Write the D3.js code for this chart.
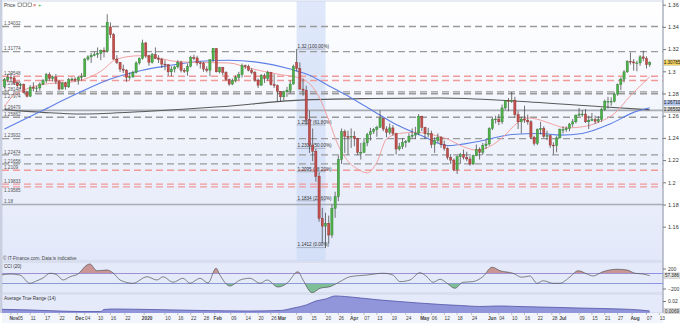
<!DOCTYPE html>
<html>
<head>
<meta charset="utf-8">
<script src="https://cdn.jsdelivr.net/npm/d3@7"></script>
<style>
	body { margin: 0; background: #fff; }
	svg { display: block; font-family: "Liberation Sans", Arial, sans-serif; }
</style>
</head>
<body>
<svg id="chart" width="680" height="323"></svg>
<script>
// daily candles [open, high, low, close], 30 Oct 2019 -> 10 Aug 2020
const ohlc = [
	[1.2860,1.2940,1.2845,1.2925],[1.2925,1.2977,1.2900,1.2945],[1.2945,1.2985,1.2905,1.2940],
	[1.2940,1.2955,1.2880,1.2895],[1.2895,1.2905,1.2855,1.2870],[1.2870,1.2895,1.2840,1.2880],[1.2880,1.2890,1.2800,1.2810],[1.2810,1.2825,1.2765,1.2775],
	[1.2775,1.2875,1.2770,1.2855],[1.2855,1.2900,1.2820,1.2845],[1.2845,1.2870,1.2815,1.2850],[1.2850,1.2900,1.2825,1.2885],[1.2885,1.2930,1.2875,1.2915],
	[1.2915,1.2985,1.2895,1.2970],[1.2970,1.2990,1.2915,1.2935],[1.2935,1.2960,1.2910,1.2950],[1.2950,1.2975,1.2885,1.2910],[1.2910,1.2920,1.2825,1.2840],
	[1.2840,1.2905,1.2835,1.2895],[1.2895,1.2905,1.2835,1.2860],[1.2860,1.2940,1.2850,1.2925],[1.2925,1.2945,1.2910,1.2930],[1.2930,1.2945,1.2905,1.2920],
	[1.2920,1.2960,1.2880,1.2945],[1.2945,1.2985,1.2915,1.2955],[1.2955,1.3120,1.2950,1.3110],[1.3110,1.3145,1.3095,1.3130],[1.3130,1.3165,1.3075,1.3145],
	[1.3145,1.3175,1.3135,1.3150],[1.3150,1.3215,1.3120,1.3160],[1.3160,1.3195,1.3100,1.3190],[1.3190,1.3215,1.3125,1.3180],[1.3180,1.3514,1.3170,1.3440],
	[1.3400,1.3440,1.3300,1.3330],[1.3330,1.3345,1.3105,1.3110],[1.3110,1.3145,1.3065,1.3080],[1.3080,1.3085,1.2995,1.3020],[1.3020,1.3060,1.2985,1.3010],
	[1.3010,1.3020,1.2905,1.2945],[1.2945,1.2990,1.2925,1.2950],[1.2950,1.3005,1.2940,1.2990],[1.2990,1.3090,1.2980,1.3075],
	[1.3075,1.3125,1.3060,1.3115],[1.3115,1.3285,1.3105,1.3255],[1.3255,1.3265,1.3120,1.3140],[1.3140,1.3150,1.3050,1.3080],
	[1.3080,1.3165,1.3070,1.3150],[1.3150,1.3215,1.3110,1.3115],[1.3115,1.3145,1.3075,1.3105],[1.3105,1.3120,1.3030,1.3065],[1.3065,1.3100,1.3010,1.3060],
	[1.3060,1.3065,1.2960,1.2995],[1.2995,1.3045,1.2955,1.3020],[1.3020,1.3050,1.2990,1.3040],[1.3040,1.3100,1.3025,1.3080],[1.3080,1.3095,1.2990,1.3010],
	[1.3010,1.3030,1.2985,1.3000],[1.3000,1.3070,1.2960,1.3045],[1.3045,1.3140,1.3035,1.3125],[1.3125,1.3150,1.3100,1.3120],[1.3120,1.3140,1.3050,1.3075],
	[1.3075,1.3090,1.3025,1.3070],[1.3070,1.3085,1.2995,1.3020],[1.3020,1.3045,1.2990,1.3010],[1.3010,1.3110,1.2955,1.3105],[1.3105,1.3210,1.3085,1.3205],
	[1.3205,1.3210,1.2990,1.2995],[1.2995,1.3040,1.2980,1.3035],[1.3035,1.3040,1.2965,1.2990],[1.2990,1.3000,1.2915,1.2925],[1.2925,1.2935,1.2870,1.2885],
	[1.2885,1.2935,1.2875,1.2915],[1.2915,1.2965,1.2900,1.2945],[1.2945,1.2995,1.2920,1.2970],[1.2970,1.3070,1.2945,1.3050],[1.3050,1.3060,1.3020,1.3045],
	[1.3045,1.3060,1.3000,1.3010],[1.3010,1.3030,1.2975,1.2990],[1.2990,1.3005,1.2905,1.2920],[1.2920,1.2935,1.2850,1.2875],[1.2875,1.2975,1.2870,1.2960],
	[1.2960,1.2980,1.2895,1.2935],[1.2935,1.3005,1.2915,1.2990],[1.2990,1.2995,1.2870,1.2880],[1.2880,1.2975,1.2850,1.2870],[1.2870,1.2880,1.2725,1.2820],
	[1.2820,1.2820,1.2725,1.2770],[1.2770,1.2825,1.2735,1.2815],[1.2815,1.2860,1.2770,1.2830],[1.2830,1.2920,1.2805,1.2885],[1.2885,1.3060,1.2880,1.3045],
	[1.3080,1.3200,1.3000,1.3025],[1.3025,1.3080,1.2835,1.2840],[1.2840,1.2935,1.2780,1.2830],[1.2830,1.2870,1.2520,1.2565],[1.2565,1.2645,1.2265,1.2335],
	[1.2335,1.2485,1.2190,1.2280],[1.2280,1.2300,1.2005,1.2055],[1.2055,1.2090,1.1645,1.1675],[1.1675,1.1770,1.1450,1.1605],[1.1605,1.1725,1.1409,1.1630],
	[1.1630,1.1700,1.1450,1.1525],[1.1525,1.1800,1.1500,1.1765],[1.1765,1.1915,1.1680,1.1870],[1.1870,1.2240,1.1830,1.2205],[1.2205,1.2485,1.2165,1.2455],
	[1.2455,1.2475,1.2265,1.2415],[1.2415,1.2465,1.2250,1.2405],[1.2405,1.2485,1.2310,1.2415],[1.2415,1.2460,1.2325,1.2395],[1.2395,1.2400,1.2245,1.2270],
	[1.2270,1.2355,1.2205,1.2270],[1.2270,1.2400,1.2265,1.2355],[1.2355,1.2445,1.2325,1.2430],[1.2430,1.2490,1.2375,1.2455],[1.2455,1.2490,1.2435,1.2475],
	[1.2475,1.2510,1.2410,1.2495],[1.2495,1.2647,1.2490,1.2575],[1.2575,1.2580,1.2460,1.2480],[1.2480,1.2505,1.2405,1.2450],[1.2450,1.2530,1.2430,1.2490],
	[1.2490,1.2515,1.2420,1.2440],[1.2440,1.2445,1.2250,1.2300],[1.2300,1.2355,1.2285,1.2320],[1.2320,1.2400,1.2300,1.2360],[1.2360,1.2380,1.2315,1.2365],
	[1.2365,1.2440,1.2355,1.2415],[1.2415,1.2485,1.2395,1.2425],[1.2425,1.2500,1.2390,1.2440],[1.2440,1.2615,1.2425,1.2595],[1.2595,1.2600,1.2460,1.2495],
	[1.2495,1.2500,1.2390,1.2440],[1.2440,1.2490,1.2405,1.2440],[1.2440,1.2465,1.2310,1.2340],[1.2340,1.2405,1.2265,1.2375],[1.2375,1.2440,1.2355,1.2405],
	[1.2405,1.2415,1.2310,1.2340],[1.2340,1.2375,1.2285,1.2305],[1.2305,1.2315,1.2205,1.2225],[1.2225,1.2255,1.2165,1.2200],[1.2200,1.2215,1.2100,1.2115],
	[1.2115,1.2240,1.2075,1.2230],[1.2230,1.2265,1.2165,1.2250],[1.2250,1.2295,1.2205,1.2225],[1.2225,1.2275,1.2190,1.2210],[1.2210,1.2235,1.2150,1.2165],
	[1.2165,1.2250,1.2155,1.2240],[1.2240,1.2340,1.2235,1.2295],[1.2295,1.2315,1.2205,1.2270],[1.2270,1.2355,1.2245,1.2330],[1.2330,1.2385,1.2300,1.2345],
	[1.2345,1.2495,1.2330,1.2485],[1.2485,1.2580,1.2470,1.2565],[1.2565,1.2600,1.2530,1.2570],[1.2570,1.2615,1.2515,1.2545],[1.2545,1.2700,1.2525,1.2670],
	[1.2670,1.2740,1.2655,1.2735],[1.2735,1.2760,1.2640,1.2730],[1.2730,1.2813,1.2715,1.2740],[1.2740,1.2770,1.2580,1.2610],[1.2610,1.2640,1.2480,1.2545],
	[1.2545,1.2590,1.2440,1.2570],[1.2570,1.2690,1.2535,1.2560],[1.2560,1.2610,1.2520,1.2545],[1.2545,1.2560,1.2390,1.2405],[1.2405,1.2420,1.2330,1.2350],
	[1.2350,1.2485,1.2335,1.2475],[1.2475,1.2545,1.2430,1.2485],[1.2485,1.2505,1.2400,1.2415],[1.2415,1.2465,1.2380,1.2420],[1.2420,1.2430,1.2310,1.2335],
	[1.2335,1.2360,1.2251,1.2330],[1.2330,1.2415,1.2270,1.2400],[1.2400,1.2485,1.2395,1.2475],[1.2475,1.2505,1.2440,1.2475],[1.2475,1.2505,1.2455,1.2485],
	[1.2485,1.2535,1.2460,1.2525],[1.2525,1.2570,1.2500,1.2545],[1.2545,1.2610,1.2530,1.2605],[1.2605,1.2670,1.2595,1.2615],[1.2615,1.2650,1.2590,1.2615],
	[1.2615,1.2660,1.2535,1.2545],[1.2545,1.2600,1.2480,1.2560],[1.2560,1.2625,1.2550,1.2565],[1.2565,1.2600,1.2525,1.2550],[1.2550,1.2595,1.2535,1.2565],
	[1.2565,1.2670,1.2545,1.2655],[1.2655,1.2745,1.2645,1.2730],[1.2730,1.2770,1.2665,1.2730],[1.2730,1.2765,1.2690,1.2730],[1.2730,1.2810,1.2720,1.2795],
	[1.2795,1.2890,1.2780,1.2880],[1.2880,1.2945,1.2830,1.2930],[1.2930,1.3010,1.2900,1.2995],[1.2995,1.3100,1.2985,1.3090],[1.3090,1.3170,1.3060,1.3085],
	[1.3085,1.3110,1.3005,1.3075],[1.3075,1.3095,1.3000,1.3075],[1.3075,1.3145,1.3050,1.3130],[1.3130,1.3185,1.3090,1.3115],[1.3115,1.3135,1.3025,1.3060],
	[1.3060,1.3090,1.3040,1.3078]
];

// moving averages, read at candle positions
const ma20Idx = [0,2,6,10,14,20,25,30,35,42,48,53,60,70,76,86,92,95,98,101,104,107,110,113,116,119,123,128,133,138,143,147,151,155,160,163,167,171,175,180,185,190,195,201];
const ma20 = [1.2680,1.2760,1.2830,1.2870,1.2890,1.2900,1.2930,1.3000,1.3110,1.3140,1.3120,1.3090,1.3080,1.3075,1.3030,1.2970,1.2940,1.2890,1.2770,1.2560,1.2330,1.2190,1.2120,1.2085,1.2180,1.2390,1.2440,1.2450,1.2430,1.2390,1.2320,1.2290,1.2320,1.2400,1.2540,1.2580,1.2560,1.2520,1.2490,1.2500,1.2540,1.2620,1.2780,1.2950];
const ma50Idx = [0,12,22,33,43,51,61,70,78,89,95,101,108,115,122,130,138,148,158,167,173,180,189,196,201];
const ma50 = [1.2480,1.2650,1.2790,1.2930,1.3010,1.3050,1.3090,1.3100,1.3085,1.3020,1.2965,1.2870,1.2760,1.2640,1.2520,1.2420,1.2330,1.2370,1.2430,1.2440,1.2425,1.2440,1.2530,1.2630,1.2671];
const ma200Idx = [0,12,24,45,67,92,115,136,160,186,201];
const ma200 = [1.2655,1.2630,1.2615,1.2640,1.2680,1.2740,1.2755,1.2760,1.2730,1.2680,1.2653];

// horizontal levels
const greyLevels = [1.34032,1.31774,1.28148,1.27974,1.25862,1.23932,1.22474,1.21658];
const redLevels = [1.29548,1.29166,1.2109,1.19833,1.19585];
const solidLevels = [1.26479,1.18];

// retracement from the 9 Mar high to the 20 Mar low
const fibFrom = 91, fibTo = 100;
const fibLevels = [1.32,1.2517,1.2306,1.2095,1.1834,1.1412];
const fibLabels = ["1.32 (100.00%)","1.2517 (61.80%)","1.2306 (50.00%)","1.2095 (38.20%)","1.1834 (23.60%)","1.1412 (0.00%)"];

const priceTicks = [1.36,1.34,1.32,1.3,1.28,1.26,1.24,1.22,1.2,1.18,1.16];
const lastPrice = 1.30785, ma50Last = 1.26710, ma200Last = 1.26532;

// CCI (20)
const cciIdx = [-1,1.7,4.8,7.9,10.1,12,14.2,16.4,18.2,20.4,22.9,25.7,26.6,28.8,31.9,33.8,36,40,44.4,47.5,49.4,52.5,55.6,57.8,60.9,63.4,65.9,67.1,70.2,73.4,76.5,79.6,81.8,85.2,88,91.4,93,95.8,98.3,101.4,104.5,107.6,112.9,117.9,121,123.2,126.3,129.4,131.6,133.5,135.7,137.9,140.3,142.8,145.9,149,151.9,154.4,158.4,161.2,163.7,165.9,167.8,170.9,173,176.2,178.7,181.5,183.3,186.4,190.8,193.9,196.4,198.9,201];
const cciVal = [70,90,70,-96,-45,10,105,70,-30,35,90,270,290,155,170,115,-30,-96,35,-30,35,-76,5,-96,5,-90,205,70,-150,-30,5,-96,-30,-170,-96,135,-30,-285,-196,-163,-63,35,70,105,70,-63,-30,115,35,-76,-15,-96,-196,-76,-63,35,225,155,105,25,50,-96,-45,-96,-96,35,155,90,50,135,185,170,105,90,57.386];

// Average True Range (14)
const atrIdx = [-1,8,17,24,30,31,34,45,61,76,86,90,94,97,100,103,106,111,117,123,129,136,142,148,154,160,167,173,179,186,192,198,201];
const atrVal = [0.0091,0.0082,0.0069,0.0062,0.0062,0.0089,0.0095,0.0089,0.0076,0.0069,0.0076,0.0108,0.0148,0.0200,0.0226,0.0266,0.0259,0.0239,0.0213,0.0193,0.0174,0.0154,0.0141,0.0128,0.0135,0.0128,0.0121,0.0115,0.0108,0.0102,0.0095,0.0082,0.0069];

// date labels under the chart, at candle positions
const tickLabels = ["Nov","05","11","17","22","Dec","04","10","16","22","2020","10","16","22","28","Feb","09","14","20","26","Mar","09","15","20","26","Apr","07","13","19","24","May","06","12","18","24","Jun","04","10","16","22","28","Jul","09","15","21","27","Aug","07","13"];
const tickIdx = [2,4,8,12.5,17,22.5,25,29,33,37.5,43.5,50,54,58,62,65.5,70.5,75,79,83,85.5,91,95.5,100,104,108,112,116,120.5,125,130,133,137,141,145.5,151,154,158,162,166,170.5,173,179,183,187,191,195.5,200,204];
const monthLabels = ["Nov","Dec","2020","Feb","Mar","Apr","May","Jun","Jul","Aug"];

const left = 2, right = 663;
const mainTop = 1, mainBot = 261, cciTop = 262, cciBot = 293, atrTop = 294, atrBot = 313;

const svg = d3.select("#chart");

const x = d3.scaleLinear().domain([0, 201]).range([4.5, 4.5 + 201 * 3.21]);
const y = d3.scaleLinear().domain([1.18, 1.36]).range([204.5, 4.7]);
const yCci = d3.scaleLinear().domain([-100, 100]).range([283.5, 273.5]);
const yAtr = d3.scaleLinear().domain([0.0069, 0.02]).range([311, 301]);

const defs = svg.append("defs");
const grad = defs.append("linearGradient").attr("id", "bg").attr("x1", 0).attr("y1", 0).attr("x2", 0).attr("y2", 1);
grad.append("stop").attr("offset", "0%").attr("stop-color", "#ffffff");
grad.append("stop").attr("offset", "100%").attr("stop-color", "#e2e8f9");

function clip(id, y0, y1) {
	defs.append("clipPath").attr("id", id)
		.append("rect").attr("x", left).attr("y", y0).attr("width", right - left).attr("height", y1 - y0);
}
clip("clipMain", mainTop, mainBot);
clip("clipCci", cciTop, cciBot);
clip("clipAtr", atrTop, atrBot);
clip("clipCciUp", cciTop, yCci(100));
clip("clipCciDn", yCci(-100), cciBot);

// backgrounds
svg.append("rect").attr("width", 680).attr("height", 323).attr("fill", "#fff");
svg.append("rect").attr("x", left).attr("y", mainTop).attr("width", right - left).attr("height", mainBot - mainTop)
	.attr("fill", "url(#bg)").attr("stroke", "#c6cde2").attr("stroke-width", 0.8);
[[cciTop, cciBot], [atrTop, atrBot]].forEach(p => {
	svg.append("rect").attr("x", left).attr("y", p[0]).attr("width", right - left).attr("height", p[1] - p[0])
		.attr("fill", "#e5eafa").attr("stroke", "#c6cde2").attr("stroke-width", 0.8);
});
svg.append("rect").attr("x", 0).attr("y", 0).attr("width", left).attr("height", atrBot).attr("fill", "#c9cfdf");

const main = svg.append("g").attr("clip-path", "url(#clipMain)");

// retracement zone
main.append("rect")
	.attr("x", x(fibFrom)).attr("y", mainTop)
	.attr("width", x(fibTo) - x(fibFrom)).attr("height", mainBot - mainTop)
	.attr("fill", "#c9d8f6").attr("opacity", 0.6);

// horizontal levels; when two levels sit close together the lower label goes under its line
const allLevels = greyLevels.concat(redLevels, solidLevels).sort((a, b) => b - a);
function labelBelow(lv) {
	const k = allLevels.indexOf(lv);
	return k > 0 && y(lv) - y(allLevels[k - 1]) < 5;
}
function levelLines(levels, color, dash, width) {
	main.selectAll(null).data(levels).enter().append("line")
		.attr("x1", left).attr("x2", right)
		.attr("y1", d => y(d)).attr("y2", d => y(d))
		.attr("stroke", color).attr("stroke-width", width)
		.attr("stroke-dasharray", dash);
	main.selectAll(null).data(levels).enter().append("text")
		.attr("x", 4).attr("y", d => labelBelow(d) ? y(d) + 4.6 : y(d) - 1.2)
		.attr("font-size", 4.6).attr("fill", "#555")
		.text(d => d);
}
levelLines(greyLevels, "#9a9a9a", "7,4", 1.4);
levelLines(redLevels, "#f19a9a", "7,4", 1.4);
levelLines(solidLevels, "#a8acb4", null, 1.6);

// fibonacci labels
fibLevels.forEach((lv, i) => {
	main.append("line")
		.attr("x1", x(fibFrom)).attr("x2", x(fibTo))
		.attr("y1", y(lv)).attr("y2", y(lv))
		.attr("stroke", "#8a8f9c").attr("stroke-width", 0.6);
	main.append("text")
		.attr("x", x(fibFrom) + 1).attr("y", y(lv) - 1.2)
		.attr("font-size", 4.6).attr("fill", "#333")
		.text(fibLabels[i]);
});

// moving averages
const maLine = d3.line().curve(d3.curveMonotoneX).x(d => x(d[0])).y(d => y(d[1]));
const maSeries = [
	[d3.zip(ma200Idx, ma200), "#5a5a5a", 1.1],
	[d3.zip(ma50Idx, ma50), "#5d7fe6", 1.1],
	[d3.zip(ma20Idx, ma20), "#f2a0a0", 1]
];
maSeries.forEach(s => {
	main.append("path").datum(s[0]).attr("d", maLine)
		.attr("fill", "none").attr("stroke", s[1]).attr("stroke-width", s[2]);
});

// candles
const bodyW = 2.2;
const candles = main.selectAll(".candle").data(ohlc).enter().append("g").attr("class", "candle");
candles.append("line")
	.attr("x1", (d, i) => x(i)).attr("x2", (d, i) => x(i))
	.attr("y1", d => y(d[1])).attr("y2", d => y(d[2]))
	.attr("stroke", "#3a3a3a").attr("stroke-width", 0.7);
candles.append("rect")
	.attr("x", (d, i) => x(i) - bodyW / 2)
	.attr("y", d => y(Math.max(d[0], d[3])))
	.attr("width", bodyW)
	.attr("height", d => Math.max(0.8, Math.abs(y(d[0]) - y(d[3]))))
	.attr("fill", d => d[3] >= d[0] ? "#4fb04a" : "#c0504d")
	.attr("stroke", d => d[3] >= d[0] ? "#2e7d32" : "#8e2f2c")
	.attr("stroke-width", 0.4);

// price axis
const axisP = svg.append("g").attr("transform", `translate(${right},0)`)
	.call(d3.axisRight(y).tickValues(priceTicks).tickSize(3).tickFormat(d => String(d)));
axisP.select(".domain").attr("stroke", "#9aa0ad").attr("d", `M0,0V${atrBot}`);
axisP.selectAll(".tick line").attr("stroke", "#777");
axisP.selectAll("text").attr("font-size", 5.5).attr("fill", "#333").attr("x", 5);

function valueBox(yPos, label, fill) {
	svg.append("rect").attr("x", right + 1).attr("y", yPos - 2.7).attr("width", 16).attr("height", 5.4)
		.attr("fill", fill).attr("stroke", "#999").attr("stroke-width", 0.3);
	svg.append("text").attr("x", right + 9).attr("y", yPos + 1.6).attr("text-anchor", "middle")
		.attr("font-size", 4.6).attr("fill", "#222").text(label);
}
valueBox(y(lastPrice), "1.30785", "#f4d35e");
// the blue MA box is lifted so the two MA boxes stay readable
valueBox(y(ma50Last) - 5, "1.26710", "#b4c6f2");
valueBox(y(ma200Last), "1.26532", "#cfcfcf");

// toolbar and source text
svg.append("text").attr("x", 4).attr("y", 7).attr("font-size", 5).attr("fill", "#333").text("Price");
[18, 23, 28].forEach(px => {
	svg.append("rect").attr("x", px).attr("y", 3).attr("width", 3.6).attr("height", 3.6)
		.attr("fill", "none").attr("stroke", "#666").attr("stroke-width", 0.6);
});
svg.append("text").attr("x", 33).attr("y", 7).attr("font-size", 5.5).attr("fill", "#d33").text("×");
svg.append("text").attr("x", 38).attr("y", 7).attr("font-size", 5.5).attr("fill", "#3a3").text("+");
svg.append("text").attr("x", 3).attr("y", 259.5).attr("font-size", 4.6).attr("fill", "#444")
	.text("© IT-Finance.com. Data is indicative");

// CCI panel
const cciPts = d3.zip(cciIdx, cciVal);
const cg = svg.append("g").attr("clip-path", "url(#clipCci)");
[100, -100].forEach(v => {
	cg.append("line").attr("x1", left).attr("x2", right).attr("y1", yCci(v)).attr("y2", yCci(v))
		.attr("stroke", "#8e92e6").attr("stroke-width", 1);
});
const cciArea = base => d3.area().curve(d3.curveMonotoneX)
	.x(d => x(d[0])).y0(yCci(base)).y1(d => yCci(d[1]));
cg.append("path").datum(cciPts).attr("d", cciArea(100))
	.attr("fill", "#c99595").attr("clip-path", "url(#clipCciUp)");
cg.append("path").datum(cciPts).attr("d", cciArea(-100))
	.attr("fill", "#7fbf98").attr("clip-path", "url(#clipCciDn)");
cg.append("path").datum(cciPts)
	.attr("d", d3.line().curve(d3.curveMonotoneX).x(d => x(d[0])).y(d => yCci(d[1])))
	.attr("fill", "none").attr("stroke", "#555").attr("stroke-width", 0.7);
svg.append("text").attr("x", 4).attr("y", 267.5).attr("font-size", 4.6).attr("fill", "#333").text("CCI (20)");
const axisC = svg.append("g").attr("transform", `translate(${right},0)`)
	.call(d3.axisRight(yCci).tickValues([200, -200]).tickSize(3));
axisC.select(".domain").remove();
axisC.selectAll(".tick line").attr("stroke", "#777");
axisC.selectAll("text").attr("font-size", 5).attr("fill", "#333").attr("x", 5);
valueBox(yCci(cciVal[cciVal.length - 1]), "57.386", "#e4e4e4");

// ATR panel
const ag = svg.append("g").attr("clip-path", "url(#clipAtr)");
const atrPts = d3.zip(atrIdx, atrVal);
ag.append("path").datum(atrPts)
	.attr("d", d3.area().curve(d3.curveMonotoneX).x(d => x(d[0])).y0(atrBot).y1(d => yAtr(d[1])))
	.attr("fill", "#9195da");
ag.append("path").datum(atrPts)
	.attr("d", d3.line().curve(d3.curveMonotoneX).x(d => x(d[0])).y(d => yAtr(d[1])))
	.attr("fill", "none").attr("stroke", "#4f52a6").attr("stroke-width", 0.8);
svg.append("text").attr("x", 4).attr("y", 299.5).attr("font-size", 4.6).attr("fill", "#333").text("Average True Range (14)");
const axisA = svg.append("g").attr("transform", `translate(${right},0)`)
	.call(d3.axisRight(yAtr).tickValues([0.02]).tickSize(3).tickFormat(d => String(d)));
axisA.select(".domain").remove();
axisA.selectAll(".tick line").attr("stroke", "#777");
axisA.selectAll("text").attr("font-size", 5).attr("fill", "#333").attr("x", 5);
valueBox(yAtr(atrVal[atrVal.length - 1]), "0.0069", "#e4e4e4");

// date axis
svg.append("rect").attr("x", left).attr("y", atrBot).attr("width", right - left).attr("height", 323 - atrBot)
	.attr("fill", "#f3f5fc");
const dg = svg.append("g");
tickLabels.forEach((lab, i) => {
	const xi = x(tickIdx[i]);
	dg.append("line").attr("x1", xi).attr("x2", xi).attr("y1", atrBot).attr("y2", atrBot + 2)
		.attr("stroke", "#888").attr("stroke-width", 0.5);
	dg.append("text").attr("x", xi + 3).attr("y", 320)
		.attr("text-anchor", "middle").attr("font-size", 4.8)
		.attr("font-weight", monthLabels.includes(lab) ? "bold" : "normal")
		.attr("fill", "#444").text(lab);
});
</script>
</body>
</html>
